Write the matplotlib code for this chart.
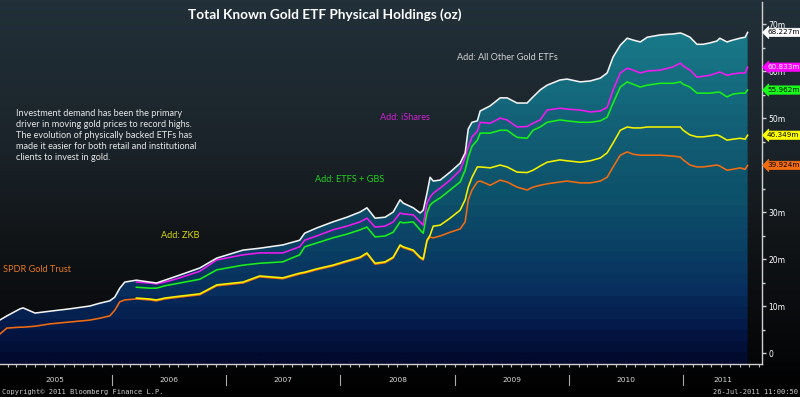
import numpy as np
import pandas as pd
import matplotlib
matplotlib.use("Agg")
import matplotlib.pyplot as plt
import matplotlib.dates as mdates
from matplotlib.colors import LinearSegmentedColormap
from matplotlib.patches import Polygon
from matplotlib.ticker import FixedLocator, MultipleLocator
from matplotlib.transforms import blended_transform_factory

NaN = np.nan

# ---------------- data (million oz) ----------------
dates = [
    "2005-01-07", "2005-01-30", "2005-03-13", "2005-03-23", "2005-04-30", "2005-06-17", "2005-08-19",
    "2005-10-22", "2005-11-23", "2005-12-25",
    "2006-01-10", "2006-01-26", "2006-02-11", "2006-03-20", "2006-05-01", "2006-05-23", "2006-06-19",
    "2006-08-06", "2006-10-09", "2006-12-02",
    "2007-02-24", "2007-04-18", "2007-07-01", "2007-08-24", "2007-09-09", "2007-10-17", "2007-12-08",
    "2008-01-22", "2008-03-04", "2008-03-26", "2008-04-21", "2008-05-23", "2008-06-18", "2008-07-10",
    "2008-07-20", "2008-08-21", "2008-09-12", "2008-09-22", "2008-10-04", "2008-10-14", "2008-10-24",
    "2008-11-15", "2008-12-17",
    "2009-01-18", "2009-02-03", "2009-02-13", "2009-02-25", "2009-03-14", "2009-03-23", "2009-04-24",
    "2009-05-26", "2009-06-17", "2009-07-19", "2009-08-20", "2009-09-08", "2009-10-01", "2009-10-23",
    "2009-12-03", "2009-12-26",
    "2010-02-06", "2010-03-10", "2010-04-11", "2010-05-03", "2010-05-22", "2010-06-14", "2010-07-06",
    "2010-07-25", "2010-08-17", "2010-09-08", "2010-10-20", "2010-11-30", "2010-12-23",
    "2011-01-01", "2011-01-23", "2011-02-14", "2011-03-06", "2011-03-28", "2011-04-19", "2011-04-28",
    "2011-05-21", "2011-06-09", "2011-07-02", "2011-07-18", "2011-07-26",
]

total_all = [
    7.0, 7.9, 9.4, 9.6, 8.5, 8.9, 9.4, 10.0, 10.6, 11.1,
    11.9, 13.8, 15.1, 15.5, 15.1, 14.9, 15.5, 16.6, 18.1, 20.2,
    21.9, 22.3, 23.0, 24.0, 25.5, 26.6, 27.9,
    28.9, 30.0, 30.9, 28.7, 28.9, 30.0, 32.6, 31.9, 30.9, 29.8, 30.4, 34.0, 37.4, 36.6, 36.8, 38.5,
    40.4, 42.6, 47.7, 49.1, 49.4, 51.5, 52.6, 54.3, 54.3, 53.2, 53.2, 54.5, 56.0, 57.0, 58.1, 58.3,
    57.7, 57.9, 58.5, 59.6, 63.0, 65.5, 67.0, 66.6, 66.2, 67.2, 67.7, 67.9, 68.1,
    67.9, 67.2, 65.7, 65.7, 66.0, 66.4, 67.0, 66.2, 66.6, 67.0, 67.2, 68.227,
]

plus_ishares = [
    NaN, NaN, NaN, NaN, NaN, NaN, NaN, NaN, NaN, NaN,
    NaN, NaN, NaN, 15.1, 14.9, 14.7, 15.1, 16.0, 17.4, 19.8,
    20.9, 21.3, 21.3, 22.6, 24.0, 24.9, 26.2,
    27.0, 27.9, 28.7, 26.8, 27.0, 27.9, 29.8, 29.6, 29.4, 27.9, 27.2, 31.9, 33.2, 34.0, 35.1, 36.8,
    38.9, 41.7, 43.8, 46.0, 47.2, 49.1, 48.9, 50.0, 49.6, 48.1, 48.2, 48.9, 49.6, 51.7, 52.1, 51.9,
    51.7, 51.3, 51.5, 52.3, 56.0, 59.6, 60.6, 60.2, 59.6, 60.0, 60.2, 60.9, 61.7,
    61.1, 60.2, 58.7, 58.9, 59.1, 59.6, 59.8, 59.1, 59.4, 59.6, 59.6, 60.833,
]

plus_etfs_gbs = [
    NaN, NaN, NaN, NaN, NaN, NaN, NaN, NaN, NaN, NaN,
    NaN, NaN, NaN, 14.0, 13.8, 13.8, 14.3, 14.9, 15.7, 17.7,
    18.7, 19.1, 19.4, 20.9, 22.6, 23.4, 24.5,
    25.3, 26.2, 26.8, 24.7, 24.9, 25.7, 27.9, 27.7, 27.9, 26.2, 25.5, 29.8, 31.5, 32.1, 33.0, 34.7,
    36.4, 38.9, 41.7, 44.0, 45.3, 46.8, 46.8, 47.4, 47.4, 45.9, 45.7, 47.4, 48.1, 49.1, 49.6, 49.4,
    49.1, 49.1, 49.4, 50.2, 53.2, 56.6, 57.7, 57.2, 56.6, 57.0, 57.4, 57.4, 57.7,
    57.2, 56.6, 55.3, 55.3, 55.3, 55.5, 55.5, 54.5, 55.1, 55.3, 55.3, 55.962,
]

plus_zkb = [
    NaN, NaN, NaN, NaN, NaN, NaN, NaN, NaN, NaN, NaN,
    NaN, NaN, NaN, 11.7, 11.5, 11.3, 11.7, 12.1, 12.6, 14.5,
    15.1, 16.4, 16.0, 17.0, 17.2, 17.9, 18.7,
    19.6, 20.4, 21.3, 19.1, 19.4, 20.4, 23.0, 22.6, 21.9, 20.4, 20.0, 24.0, 25.1, 27.0, 27.2, 28.7,
    30.4, 32.6, 35.3, 37.4, 39.6, 39.6, 39.4, 40.0, 39.6, 38.5, 38.4, 38.9, 39.8, 40.6, 41.1, 40.9,
    40.6, 40.9, 41.5, 42.6, 44.7, 47.4, 48.1, 47.9, 47.9, 48.1, 48.1, 48.1, 48.1,
    47.4, 46.4, 46.0, 46.0, 46.2, 46.4, 46.2, 45.3, 45.5, 45.7, 45.5, 46.349,
]

spdr = [
    4.0, 5.3, 5.5, 5.5, 5.7, 6.2, 6.6, 7.0, 7.4, 7.9,
    9.1, 10.9, 11.3, 11.5, 11.3, 11.1, 11.5, 11.9, 12.4, 14.3,
    14.9, 16.2, 15.8, 16.8, 17.0, 17.7, 18.5,
    19.4, 20.2, 21.1, 18.9, 19.2, 20.2, 22.8, 22.4, 21.7, 20.2, 19.8, 23.8, 24.7, 24.5, 24.9, 25.7,
    26.4, 27.9, 32.6, 34.7, 36.4, 36.6, 35.7, 36.8, 36.4, 35.3, 34.7, 35.3, 35.7, 36.0, 36.4, 36.6,
    36.2, 36.2, 36.6, 37.4, 39.6, 42.1, 42.8, 42.3, 42.1, 42.1, 42.1, 41.9, 41.7,
    41.1, 40.0, 39.6, 39.6, 39.8, 40.0, 39.8, 38.9, 39.1, 39.4, 39.1, 39.924,
]

year_labels = ["2005", "2006", "2007", "2008", "2009", "2010", "2011"]
y_ticks = [0, 10, 20, 30, 40, 50, 60, 70]
y_tick_labels = ["0", "10m", "20m", "30m", "40m", "50m", "60m", "70m"]

title = "Total Known Gold ETF Physical Holdings (oz)"
note = ("Investment demand has been the primary\n"
        "driver in moving gold prices to record highs.\n"
        "The evolution of physically backed ETFs has\n"
        "made it easier for both retail and institutional\n"
        "clients to invest in gold.")

# ---------------- figure ----------------
W, H = 800, 397
fig = plt.figure(figsize=(W / 100, H / 100), dpi=100)
fig.patch.set_facecolor("black")

# figure background gradient
bg = fig.add_axes([0, 0, 1, 1], zorder=-5)
bg.set_axis_off()
bg_cmap = LinearSegmentedColormap.from_list(
    "bg", [(0.0, "#000000"), (0.083, "#040506"), (0.244, "#0b0d10"), (0.421, "#121619"),
           (0.622, "#1a2329"), (0.849, "#1f2b33"), (1.0, "#223039")])
grad = np.linspace(0, 1, 397).reshape(-1, 1)
bg.imshow(grad, cmap=bg_cmap, aspect="auto", origin="lower", extent=[0, 1, 0, 1], vmin=0, vmax=1)
bg.set_xlim(0, 1)
bg.set_ylim(0, 1)

ax = fig.add_axes([0, 33 / H, 762 / W, 362 / H])
ax.patch.set_alpha(0)

x = mdates.date2num(pd.to_datetime(dates))
xmin = mdates.date2num(pd.Timestamp("2005-01-08"))
xmax = mdates.date2num(pd.Timestamp("2011-09-10"))
ymin, ymax = -2.34, 74.7

# gradient fill under the total line
poly = np.column_stack([np.r_[x[0], x, x[-1]], np.r_[ymin, total_all, ymin]])
patch = Polygon(poly, closed=True, fc="none", ec="none", transform=ax.transData)
ax.add_patch(patch)
fill_cmap = LinearSegmentedColormap.from_list(
    "fill", [(0.0, "#020a2e"), (0.095, "#041a4a"), (0.2, "#08305e"), (0.35, "#0b4466"),
             (0.45, "#0d5069"), (0.65, "#125f76"), (0.85, "#177383"), (1.0, "#1b808f")], N=32)
vals = np.linspace(ymin, ymax, 400).reshape(-1, 1)
im = ax.imshow(vals, cmap=fill_cmap, aspect="auto", origin="lower",
               extent=[xmin, xmax, ymin, ymax], vmin=ymin, vmax=ymax, zorder=1)
im.set_clip_path(patch)

lw = 1.15
ax.plot(x, spdr, color="#f26c12", lw=lw, zorder=3)
ax.plot(x, plus_zkb, color="#f5f200", lw=lw, zorder=4)
ax.plot(x, plus_etfs_gbs, color="#19f019", lw=lw, zorder=5)
ax.plot(x, plus_ishares, color="#f01af0", lw=lw, zorder=6)
ax.plot(x, total_all, color="#f2f2f2", lw=lw, zorder=7)

ax.set_xlim(xmin, xmax)
ax.set_ylim(ymin, ymax)

for s in ["left", "top"]:
    ax.spines[s].set_visible(False)
for s in ["bottom", "right"]:
    ax.spines[s].set_color("#d0d0d0")
    ax.spines[s].set_linewidth(1.0)

# y axis on right
ax.yaxis.tick_right()
ax.set_yticks(y_ticks)
ax.set_yticklabels(y_tick_labels)
ax.yaxis.set_minor_locator(MultipleLocator(5))
ax.tick_params(axis="y", which="major", length=3, width=1, color="#d0d0d0",
               labelcolor="white", labelsize=5.5, pad=1.5, direction="out")
ax.tick_params(axis="y", which="minor", length=2, width=1, color="#d0d0d0", direction="out")

# x axis: year labels centred in each year, monthly minor ticks
years = [int(y) for y in year_labels]
centers = []
for yv in years:
    a = mdates.date2num(pd.Timestamp(f"{yv}-01-01"))
    b = min(mdates.date2num(pd.Timestamp(f"{yv + 1}-01-01")), xmax)
    centers.append((a + b) / 2)
ax.xaxis.set_major_locator(FixedLocator(centers))
ax.set_xticklabels(year_labels)
ax.xaxis.set_minor_locator(mdates.MonthLocator())
ax.tick_params(axis="x", which="major", length=0, labelcolor="#d8d8d8", labelsize=5.3, pad=9.5)
ax.tick_params(axis="x", which="minor", length=2, width=0.8, color="#bbbbbb", direction="out")

trans = blended_transform_factory(ax.transData, ax.transAxes)
for yv in years[1:]:
    d = mdates.date2num(pd.Timestamp(f"{yv}-01-01"))
    ax.plot([d, d], [-0.031, -0.058], transform=trans, color="#aaaaaa", lw=0.8, clip_on=False)

# right-hand value tags (cover the tick labels beneath, as in the original)
ytrans = ax.get_yaxis_transform()
tags = [
    (total_all[-1], "#ffffff", "#000000"),
    (plus_ishares[-1], "#ff00ff", "#ffffff"),
    (plus_etfs_gbs[-1], "#1aff1a", "#000000"),
    (plus_zkb[-1], "#ffff00", "#000000"),
    (spdr[-1], "#f26c12", "#000000"),
]
for v, fc, tc in tags:
    ax.annotate(f"{v:.3f}m", xy=(1.0, v), xycoords=ytrans, xytext=(3.6, 0),
                textcoords="offset points", ha="left", va="center", fontsize=5.2,
                color=tc, zorder=20, annotation_clip=False,
                bbox=dict(boxstyle="larrow,pad=0.16", fc=fc, ec=fc, lw=0.5))

# texts
fig.text(324.5 / W, 1 - 15 / H, title, ha="center", va="center", color="white",
         fontsize=9.8, fontweight="bold", family="Lato")
fig.text(16.5 / W, 1 - 108.5 / H, note, ha="left", va="top", color="#e8e8e8",
         fontsize=6.6, family="Lato", linespacing=1.32)
fig.text(507 / W, 1 - 57 / H, "Add: All Other Gold ETFs", ha="center", va="center",
         color="#d2d2d2", fontsize=6.6, family="Lato")
fig.text(405 / W, 1 - 118 / H, "Add: iShares", ha="center", va="center",
         color="#d020d0", fontsize=6.6, family="Lato")
fig.text(350 / W, 1 - 179 / H, "Add: ETFS + GBS", ha="center", va="center",
         color="#1ed21e", fontsize=6.6, family="Lato")
fig.text(180 / W, 1 - 236 / H, "Add: ZKB", ha="center", va="center",
         color="#d8d800", fontsize=6.6, family="Lato")
fig.text(3 / W, 1 - 270 / H, "SPDR Gold Trust", ha="left", va="center",
         color="#e8781e", fontsize=6.6, family="Lato")

fig.text(2 / W, 1 - 392 / H, "Copyright\u00a9 2011 Bloomberg Finance L.P.", ha="left", va="center",
         color="#cfcfcf", fontsize=5, family="DejaVu Sans Mono")
fig.text(798 / W, 1 - 392 / H, "26-Jul-2011 11:00:50", ha="right", va="center",
         color="#cfcfcf", fontsize=5, family="DejaVu Sans Mono")

fig.savefig("out.png", dpi=100, facecolor=fig.get_facecolor())
